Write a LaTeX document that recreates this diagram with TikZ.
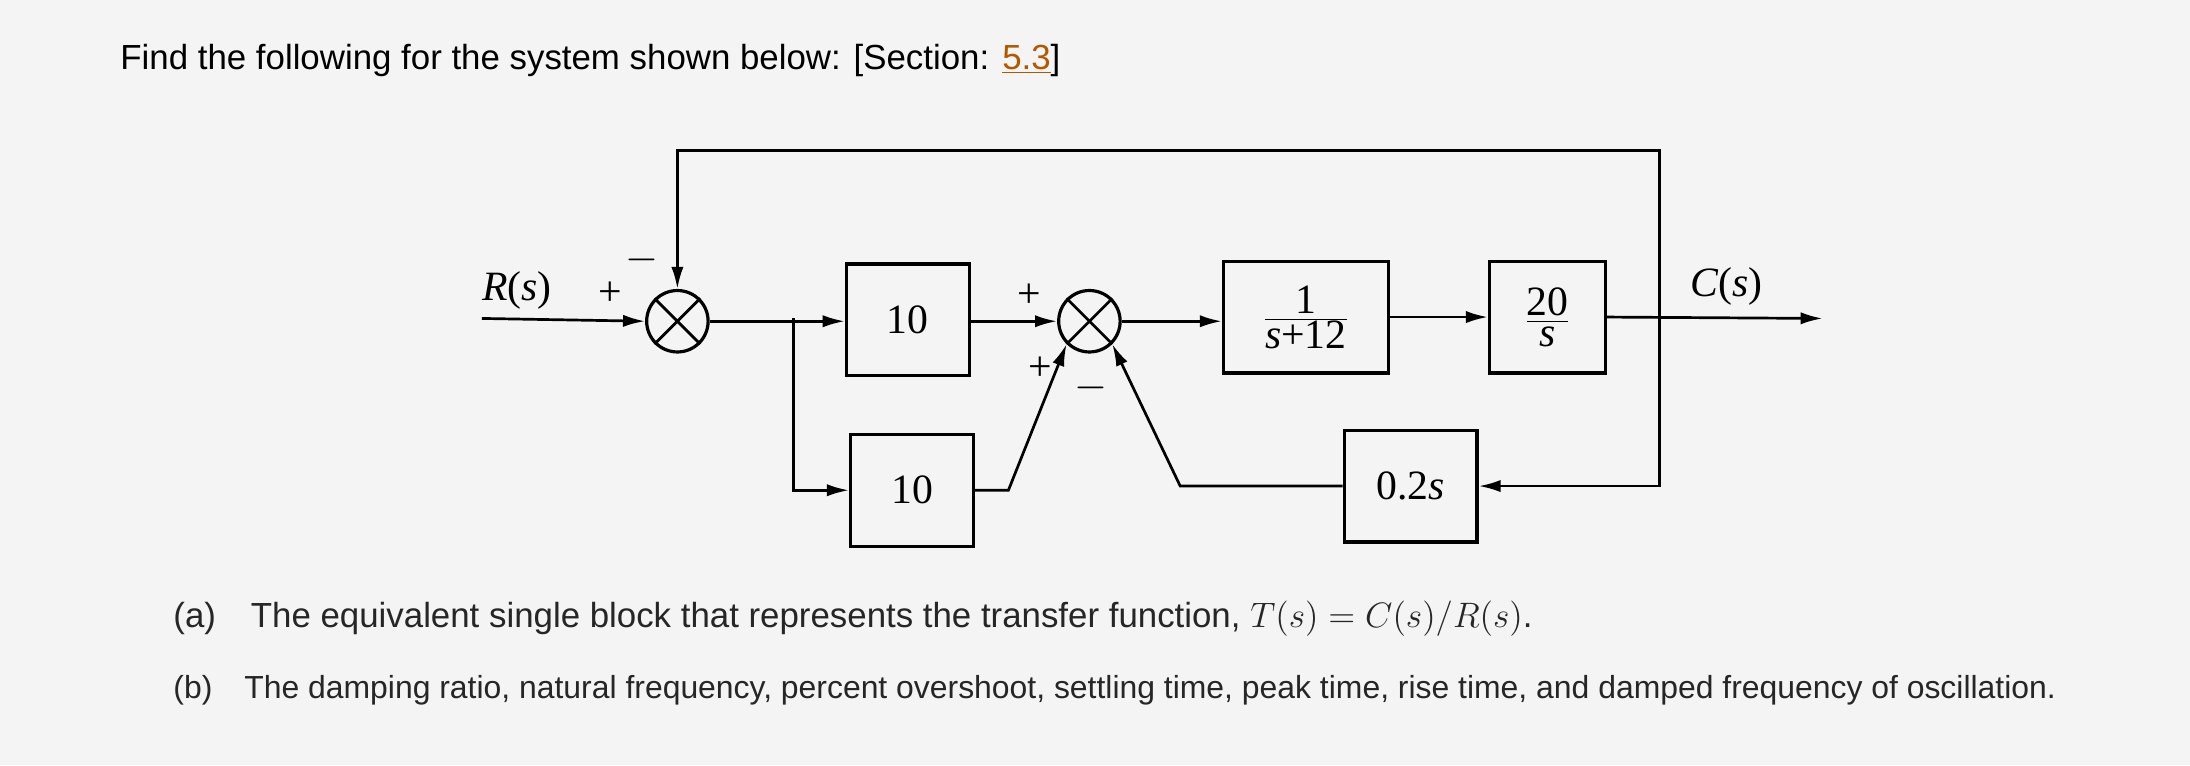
\documentclass[tikz,border=0pt]{standalone}
\usepackage{fontspec}
\setmainfont{Liberation Sans}
\newfontfamily\dfont{Liberation Serif}
\usetikzlibrary{arrows.meta}
\begin{document}
\begin{tikzpicture}[x={(0.02cm,0)},y={(0,-0.02cm)},
  blk/.style={draw,line width=1.3pt,minimum width=#1*0.02cm,minimum height=80*0.02cm,font=\dfont\fontsize{17}{19}\selectfont},
  sumj/.style={draw,line width=1.3pt,circle,minimum size=44*0.02cm,inner sep=0pt},
  ln/.style={line width=1.1pt},
  ar/.style={ln,-{Latex[length=9pt,width=5pt]}},
  lab/.style={font=\dfont\fontsize{17}{19}\selectfont},
  qtext/.style={anchor=west,font=\fontsize{14.2}{17}\selectfont,text=black!85}]
\fill[gray!9] (0,0) rectangle (1568,548);
\useasboundingbox (0,0) rectangle (1568,548);
\node[qtext,text=black] (title) at (80,43) {Find the following for the system shown below: [Section: \textcolor{orange!70!black}{\underline{5.3}}]};
% nodes
\node[sumj] (s1) at (485,230) {};
\node[sumj] (s2) at (780,230) {};
\draw[ln] (s1.north west)--(s1.south east) (s1.north east)--(s1.south west);
\draw[ln] (s2.north west)--(s2.south east) (s2.north east)--(s2.south west);
\node[blk=88] (k1) at (650,229) {10};
\node[blk=88] (k2) at (653,351) {10};
\node[blk=118] (g1) at (935,227) {$\frac{\mbox{\dfont 1}}{\mbox{\dfont\itshape s\upshape+12}}$};
\node[blk=83] (g2) at (1108,227) {$\frac{\mbox{\dfont 20}}{\mbox{\dfont\itshape s}}$};
\node[blk=95] (h) at (1010,348) {\dfont 0.2\itshape s};
\coordinate (rin) at (345,228);
\coordinate (cout) at (1305,228);
\coordinate (br1) at (568,228);
\coordinate (br2) at (1188,228);
\coordinate (top1) at (485,108);
\coordinate (top2) at (1188,108);
% connectors
\draw[ar] (rin) -- (s1.west);
\draw[ar] (s1.east) -- (k1.west |- s1.east);
\draw[ar] (br1) |- (k2.west);
\draw[ar] (k1.east |- s2.west) -- (s2.west);
\draw[ar] (s2.east) -- (g1.west |- s2.east);
\draw[ar] (g1.east) -- (g2.west);
\draw[ar] (g2.east) -- (cout);
\draw[ar] (br2) |- (top2) -- (top1) -- (s1.north);
\draw[ar] (br2) |- (h.east);
\draw[ar] (k2.east) -- (722,351) -- (s2.south west);
\draw[ar] (h.west) -- (845,348) -- (s2.south east);
% labels
\node[lab] at (370,208) {\itshape R\upshape(\itshape s\upshape)};
\node[lab] at (1236,205) {\itshape C\upshape(\itshape s\upshape)};
\node[lab] at (437,210) {+};
\node[lab] at (460,186) {$-$};
\node[lab] at (737,212) {+};
\node[lab] at (745,264) {+};
\node[lab] at (781,278) {$-$};
% questions
\node[qtext] (qa) at (118,443) {(a)\quad The equivalent single block that represents the transfer function, $T(s)=C(s)/R(s)$.};
\node[qtext,font=\fontsize{13}{16}\selectfont] (qb) at (118,494) {(b)\quad The damping ratio, natural frequency, percent overshoot, settling time, peak time, rise time, and damped frequency of oscillation.};
\end{tikzpicture}
\end{document}
